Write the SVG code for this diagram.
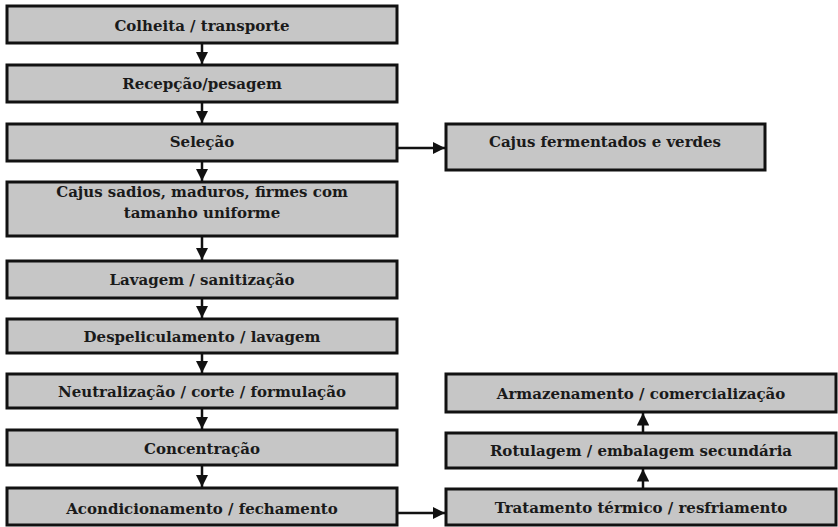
<svg xmlns="http://www.w3.org/2000/svg" width="838" height="527" viewBox="0 0 838 527">
<defs>
<style>
.box{fill:#c6c6c6;stroke:#111;stroke-width:3}
.t{font-family:"DejaVu Serif","Liberation Serif",serif;font-weight:bold;font-size:15px;fill:#1a1a1a;text-anchor:middle}
.c{stroke:#111;stroke-width:2.5;fill:none}
</style>
<marker id="ah" viewBox="0 0 10 10" refX="10" refY="5" markerWidth="5" markerHeight="5" orient="auto" markerUnits="strokeWidth">
<path d="M0,0 L10,5 L0,10 Z" fill="#111"/>
</marker>
</defs>
<rect width="838" height="527" fill="#fff"/>
<g id="connectors">
<line class="c" x1="202" y1="43" x2="202" y2="64" marker-end="url(#ah)"/>
<line class="c" x1="202" y1="102" x2="202" y2="123" marker-end="url(#ah)"/>
<line class="c" x1="202" y1="161" x2="202" y2="181" marker-end="url(#ah)"/>
<line class="c" x1="202" y1="236" x2="202" y2="260" marker-end="url(#ah)"/>
<line class="c" x1="202" y1="298" x2="202" y2="318" marker-end="url(#ah)"/>
<line class="c" x1="202" y1="353" x2="202" y2="373" marker-end="url(#ah)"/>
<line class="c" x1="202" y1="408" x2="202" y2="429" marker-end="url(#ah)"/>
<line class="c" x1="202" y1="465" x2="202" y2="487" marker-end="url(#ah)"/>
<line class="c" x1="397" y1="148" x2="445" y2="148" marker-end="url(#ah)"/>
<line class="c" x1="397" y1="513" x2="445" y2="513" marker-end="url(#ah)"/>
<line class="c" x1="643" y1="489" x2="643" y2="469" marker-end="url(#ah)"/>
<line class="c" x1="643" y1="433" x2="643" y2="413" marker-end="url(#ah)"/>
</g>
<g id="n1"><rect class="box" x="7" y="6" width="390" height="37"/><text class="t" x="202" y="31">Colheita / transporte</text></g>
<g id="n2"><rect class="box" x="7" y="65" width="390" height="37"/><text class="t" x="202" y="89">Recepção/pesagem</text></g>
<g id="n3"><rect class="box" x="7" y="124" width="390" height="37"/><text class="t" x="202" y="147">Seleção</text></g>
<g id="n4"><rect class="box" x="7" y="182" width="390" height="54"/><text class="t" x="202" y="197">Cajus sadios, maduros, firmes com</text><text class="t" x="202" y="218">tamanho uniforme</text></g>
<g id="n5"><rect class="box" x="7" y="261" width="390" height="37"/><text class="t" x="202" y="285">Lavagem / sanitização</text></g>
<g id="n6"><rect class="box" x="7" y="319" width="390" height="34"/><text class="t" x="202" y="342">Despeliculamento / lavagem</text></g>
<g id="n7"><rect class="box" x="7" y="374" width="390" height="34"/><text class="t" x="202" y="397">Neutralização / corte / formulação</text></g>
<g id="n8"><rect class="box" x="7" y="430" width="390" height="35"/><text class="t" x="202" y="454">Concentração</text></g>
<g id="n9"><rect class="box" x="7" y="488" width="390" height="37"/><text class="t" x="202" y="514">Acondicionamento / fechamento</text></g>
<g id="n10"><rect class="box" x="446" y="124" width="319" height="46"/><text class="t" x="605" y="147">Cajus fermentados e verdes</text></g>
<g id="n11"><rect class="box" x="446" y="374" width="390" height="38"/><text class="t" x="641" y="399">Armazenamento / comercialização</text></g>
<g id="n12"><rect class="box" x="446" y="433" width="390" height="35"/><text class="t" x="641" y="456">Rotulagem / embalagem secundária</text></g>
<g id="n13"><rect class="box" x="446" y="489" width="390" height="36"/><text class="t" x="641" y="513">Tratamento térmico / resfriamento</text></g>
</svg>
